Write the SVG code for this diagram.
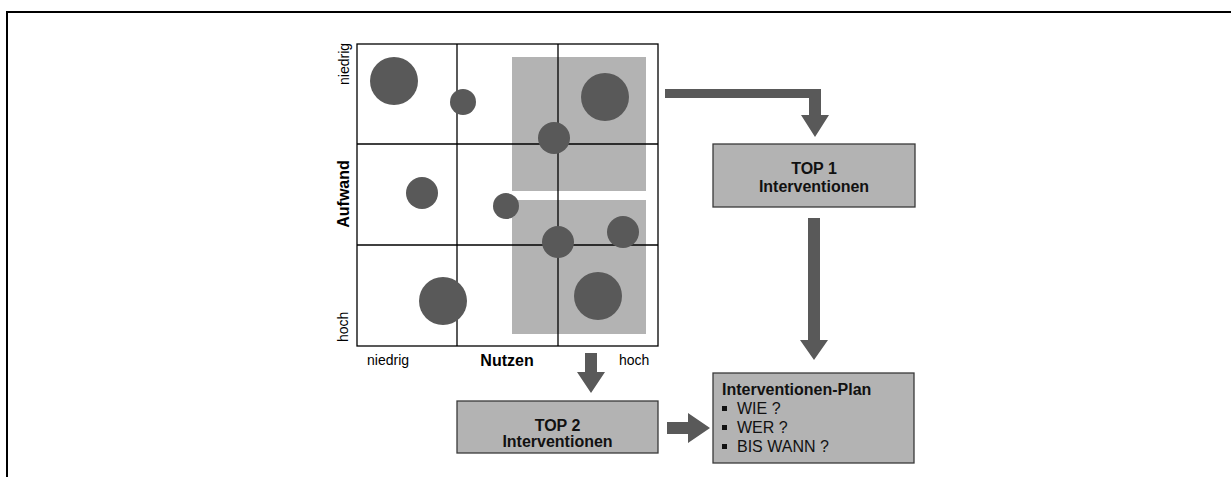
<svg xmlns="http://www.w3.org/2000/svg" width="1231" height="477" viewBox="0 0 1231 477">
  <style>
    .frame { fill: none; stroke: #000; stroke-width: 2; }
    .grid { fill: none; stroke: #000; stroke-width: 1.3; }
    .zone { fill: #b3b3b3; }
    .dot { fill: #595959; }
    .arrow { fill: #595959; }
    .box { fill: #b3b3b3; stroke: #3a3a3a; stroke-width: 1.3; }
    .lbl { font-family: "Liberation Sans", Arial, sans-serif; font-size: 14px; fill: #000; }
    .axis { font-family: "Liberation Sans", Arial, sans-serif; font-size: 16px; font-weight: bold; fill: #000; }
    .bt { font-family: "Liberation Sans", Arial, sans-serif; font-size: 16px; font-weight: bold; fill: #111; text-anchor: middle; }
    .pt { font-family: "Liberation Sans", Arial, sans-serif; font-size: 16px; fill: #111; }
    .ptb { font-family: "Liberation Sans", Arial, sans-serif; font-size: 16px; font-weight: bold; fill: #111; }
    .bullet { fill: #111; }
  </style>

  <!-- page frame -->
  <path class="frame" d="M7,477 V12 H1231"/>

  <!-- effort / benefit matrix -->
  <g id="matrix">
    <rect class="zone" x="512" y="57" width="134" height="134"/>
    <rect class="zone" x="512" y="200" width="134" height="134"/>
    <rect class="grid" x="357" y="44" width="301" height="302"/>
    <line class="grid" x1="457" y1="44" x2="457" y2="346"/>
    <line class="grid" x1="558" y1="44" x2="558" y2="346"/>
    <line class="grid" x1="357" y1="144" x2="658" y2="144"/>
    <line class="grid" x1="357" y1="245" x2="658" y2="245"/>
    <circle class="dot" cx="394" cy="81" r="24"/>
    <circle class="dot" cx="463" cy="102" r="13"/>
    <circle class="dot" cx="605" cy="97" r="24"/>
    <circle class="dot" cx="554" cy="138" r="16"/>
    <circle class="dot" cx="422" cy="193" r="16"/>
    <circle class="dot" cx="506" cy="206" r="13"/>
    <circle class="dot" cx="558" cy="242" r="16"/>
    <circle class="dot" cx="623" cy="232" r="16"/>
    <circle class="dot" cx="443" cy="301" r="24"/>
    <circle class="dot" cx="598" cy="296" r="24"/>
    <!-- axis labels -->
    <text class="lbl" transform="translate(349,85) rotate(-90)">niedrig</text>
    <text class="axis" transform="translate(349,194) rotate(-90)" text-anchor="middle">Aufwand</text>
    <text class="lbl" transform="translate(348,342) rotate(-90)">hoch</text>
    <text class="lbl" x="367" y="365">niedrig</text>
    <text class="axis" x="507" y="366" text-anchor="middle">Nutzen</text>
    <text class="lbl" x="619" y="365">hoch</text>
  </g>

  <!-- result boxes -->
  <g id="top1">
    <rect class="box" x="713" y="144" width="202" height="63"/>
    <text class="bt" x="814" y="174">TOP 1</text>
    <text class="bt" x="814" y="192">Interventionen</text>
  </g>

  <g id="top2">
    <rect class="box" x="457" y="401" width="201" height="52"/>
    <text class="bt" x="557.5" y="431">TOP 2</text>
    <text class="bt" x="557.5" y="447">Interventionen</text>
  </g>

  <g id="plan">
    <rect class="box" x="713" y="373" width="201" height="90"/>
    <text class="ptb" x="722" y="395">Interventionen-Plan</text>
    <rect class="bullet" x="722" y="406" width="5" height="5"/>
    <text class="pt" x="737" y="414">WIE ?</text>
    <rect class="bullet" x="722" y="425" width="5" height="5"/>
    <text class="pt" x="737" y="433">WER ?</text>
    <rect class="bullet" x="722" y="444" width="5" height="5"/>
    <text class="pt" x="737" y="452">BIS WANN ?</text>
  </g>

  <!-- block arrows -->
  <g id="connectors">
    <polygon class="arrow" points="665,89 821,89 821,115 829,115 815,137 801,115 809,115 809,98 665,98"/>
    <polygon class="arrow" points="808,218 820,218 820,340 828,340 814,360 800,340 808,340"/>
    <polygon class="arrow" points="585,353 597,353 597,372 605,372 591,393 577,372 585,372"/>
    <polygon class="arrow" points="667,422 688,422 688,413 710,428 688,443 688,434 667,434"/>
  </g>
</svg>
